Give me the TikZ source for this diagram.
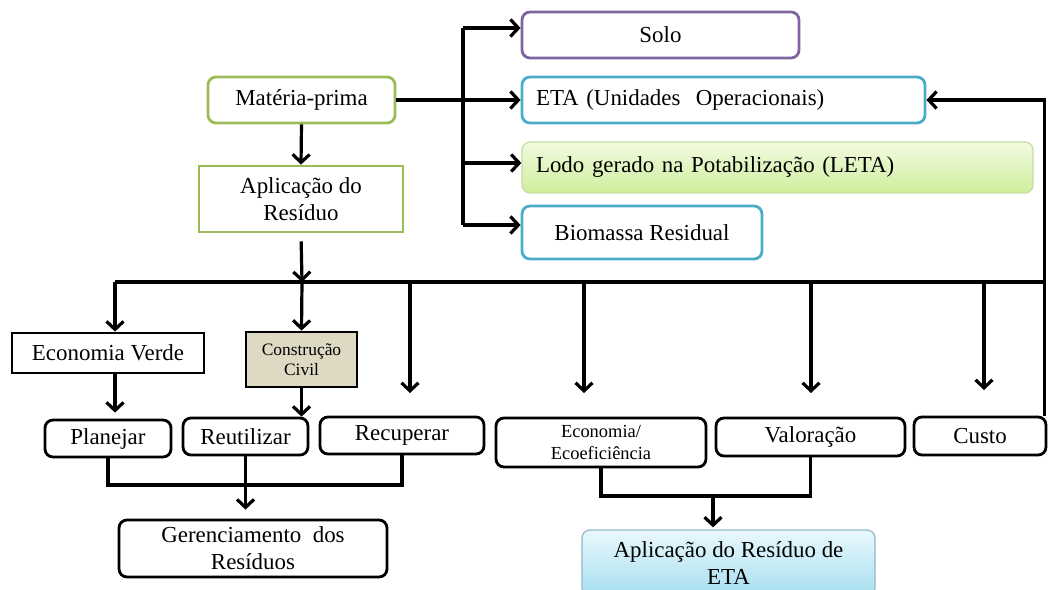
\documentclass[tikz,border=0pt]{standalone}
\usepackage{fontspec}
\setmainfont{Liberation Serif}
\usetikzlibrary{arrows.meta}
\definecolor{cGreen}{HTML}{9BBB59}
\definecolor{cPurple}{HTML}{8064A2}
\definecolor{cTeal}{HTML}{4BACC6}
\definecolor{cTan}{HTML}{DDD9C3}
\definecolor{cLodoTop}{HTML}{F4FBE2}
\definecolor{cLodoBot}{HTML}{CDEE9C}
\definecolor{cLodoLine}{HTML}{C5DCA0}
\definecolor{cBlueTop}{HTML}{EAF8FC}
\definecolor{cBlueBot}{HTML}{A6DFF0}
\definecolor{cBlueLine}{HTML}{8FB8CB}
\begin{document}
\begin{tikzpicture}[x=1bp,y=-1bp,
  box/.style={draw, line width=2.8bp, rounded corners=8bp, inner sep=2bp, align=center,
    font=\fontsize{23}{27}\selectfont},
  sqbox/.style={box, sharp corners},
  leftbox/.style={box, align=left, inner xsep=14bp},
  arr/.style={line width=3.2bp, -{Straight Barb[length=8bp,width=17bp]}},
  ln/.style={line width=3.2bp}]
\useasboundingbox (0,0) rectangle (1048,590);

% top part
\node[box, draw=cGreen, minimum width=187bp, minimum height=46bp] (mp) at (301.5,100) {Matéria-prima};
\node[sqbox, draw=cGreen, minimum width=204bp, minimum height=66bp] (apl) at (301,199) {Aplicação do\\Resíduo};
\node[box, draw=cPurple, minimum width=277bp, minimum height=46bp] (solo) at (660.5,35) {Solo};
\node[leftbox, draw=cTeal, text width=375bp, minimum height=46bp] (eta) at (723.5,100) {ETA (Unidades\ \ Operacionais)};
\node[leftbox, draw=cLodoLine, line width=1.2bp, top color=cLodoTop, bottom color=cLodoBot, text width=483bp, minimum height=51bp] (lodo) at (777.5,167.5) {Lodo gerado na Potabilização (LETA)};
\node[box, draw=cTeal, minimum width=240bp, minimum height=53bp] (bio) at (642,232.5) {Biomassa Residual};

% middle row
\node[sqbox, draw=black, minimum width=192bp, minimum height=40bp] (ev) at (108,353) {Economia\ Verde};
\node[sqbox, draw=black, fill=cTan, minimum width=111bp, minimum height=55bp, font=\fontsize{17.5}{20}\selectfont] (cc) at (301.5,359.5) {Construção\\Civil};

% lower row
\node[box, draw=black, minimum width=126bp, minimum height=37bp] (plan) at (108,438.5) {Planejar};
\node[box, draw=black, minimum width=125bp, minimum height=37bp] (reut) at (245.5,436.5) {Reutilizar};
\node[box, draw=black, minimum width=164bp, minimum height=37bp] (recu) at (402,435.5) {Recuperar};
\node[box, draw=black, minimum width=210bp, minimum height=49bp, font=\fontsize{18.5}{23}\selectfont] (eco) at (601,442.5) {Economia/\\Ecoeficiência};
\node[box, draw=black, minimum width=189bp, minimum height=38bp] (val) at (810.5,437) {Valoração};
\node[box, draw=black, minimum width=132bp, minimum height=38bp] (custo) at (980,436) {Custo};

% bottom
\node[box, draw=black, minimum width=268bp, minimum height=57bp] (ger) at (253,548.5) {Gerenciamento\ \ dos\\Resíduos};
\node[box, draw=cBlueLine, line width=1.2bp, top color=cBlueTop, bottom color=cBlueBot, minimum width=293bp, minimum height=66bp] (aeta) at (728.5,563) {Aplicação do Resíduo de\\ETA};

% coordinates
\coordinate (forkT) at (463,28);
\coordinate (forkB) at (463,225);
\coordinate (bus) at (302,282);
\coordinate (busL) at (115,282);
\coordinate (busR) at (1043,282);
\coordinate (d1) at (410,393);
\coordinate (d2) at (584,393);
\coordinate (d3) at (811,393);
\coordinate (d4) at (984,390);
\coordinate (j1) at (247,485);
\coordinate (j2) at (713,496);

% connectors top
\draw[arr] (mp.south) -- (apl.north);
\draw[arr, shorten <=8bp] (apl.south) -- (bus);
\draw[arr] (mp.east) -- (eta.west);
\draw[ln] (forkT) -- (forkB);
\draw[arr] (forkT) -- (forkT -| solo.west);
\draw[arr] (forkT |- 0,163) -- (lodo.west |- 0,163);
\draw[arr] (forkB) -- (forkB -| bio.west);
\draw[arr] ([xshift=-3bp]custo.north east) |- (eta.east);

% bus
\draw[ln] (busL) -- (busR);
\draw[arr] (busL) -- (busL |- ev.north);
\draw[arr] (bus) -- (cc.north);
\draw[arr] (d1 |- bus) -- (d1);
\draw[arr] (d2 |- bus) -- (d2);
\draw[arr] (d3 |- bus) -- (d3);
\draw[arr] (d4 |- bus) -- (d4);

% lower connectors
\draw[arr, shorten >=6bp] (busL |- ev.south) -- (busL |- plan.north);
\draw[arr] (cc.south) -- (cc.south |- reut.north);
\draw[ln] (plan.south) |- (j1) -| (recu.south);
\draw[arr, shorten >=9bp] (reut.south) -- (reut.south |- ger.north);
\draw[ln] (eco.south) |- (j2) -| (val.south);
\draw[arr, shorten >=2bp] (j2) -- (j2 |- aeta.north);
\end{tikzpicture}
\end{document}
